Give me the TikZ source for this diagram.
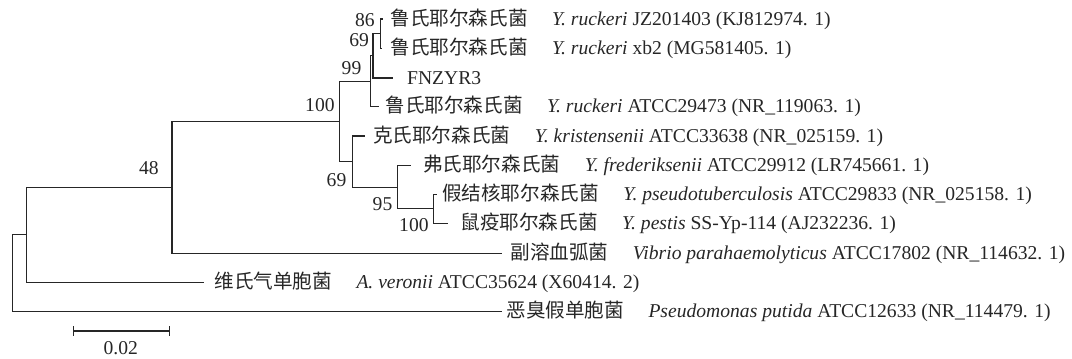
\documentclass[tikz,border=0pt]{standalone}
\usepackage{fontspec}
\setmainfont{Liberation Serif}
\newfontfamily\cjk{Noto Sans CJK SC}
\usetikzlibrary{positioning}
\definecolor{TreeInk}{HTML}{262626}
\newcommand{\strain}[3]{{\cjk #1}\hspace{1.25em}\textit{#2} #3}

\begin{document}
\begin{tikzpicture}[x=0.5pt,y=-0.5pt,
  branch/.style={draw=TreeInk,line width=0.55pt},
  leaf/.style={anchor=west,inner sep=0pt,text=TreeInk,
               font=\fontsize{9.8}{11}\selectfont},
  boot/.style={anchor=east,inner sep=0pt,text=TreeInk,
               font=\fontsize{9.8}{11}\selectfont}]
  \useasboundingbox (0,0) rectangle (1072,359);

  % internal nodes
  \coordinate (root)  at (12.3,273.5);
  \coordinate (nAer)  at (26.7,234.8);
  \coordinate (n48)   at (172,187.7);
  \coordinate (n100a) at (339.3,121.7);
  \coordinate (n99)   at (370.7,81.3);
  \coordinate (n69a)  at (373,55.6);
  \coordinate (n86)   at (380.3,33.6);
  \coordinate (n69b)  at (352.7,161.7);
  \coordinate (n95)   at (397.7,187.5);
  \coordinate (n100b) at (433.3,208.8);

  % leaf tips
  \coordinate (tJZ)  at (383,19);
  \coordinate (tXB)  at (381.5,48.3);
  \coordinate (tFN)  at (393.3,78);
  \coordinate (tAT)  at (379.3,106.7);
  \coordinate (tKr)  at (365,136);
  \coordinate (tFr)  at (411,165.7);
  \coordinate (tPs)  at (437,194.3);
  \coordinate (tPe)  at (448,223.3);
  \coordinate (tVi)  at (501.7,253.3);
  \coordinate (tAe)  at (204,282.3);
  \coordinate (tPp)  at (501.7,311.7);

  % branches
  \draw[branch] (root) |- (tPp);
  \draw[branch] (root) |- (nAer);
  \draw[branch] (nAer) |- (tAe);
  \draw[branch] (nAer) |- (n48);
  \draw[branch] (n48) |- (tVi);
  \draw[branch] (n48) |- (n100a);
  \draw[branch] (n100a) |- (n99);
  \draw[branch] (n100a) |- (n69b);
  \draw[branch] (n99) |- (n69a);
  \draw[branch] (n99) |- (tAT);
  \draw[branch] (n69a) |- (n86);
  \draw[branch] (n69a) |- (tFN);
  \draw[branch] (n86) |- (tJZ);
  \draw[branch] (n86) |- (tXB);
  \draw[branch] (n69b) |- (tKr);
  \draw[branch] (n69b) |- (n95);
  \draw[branch] (n95) |- (tFr);
  \draw[branch] (n95) |- (n100b);
  \draw[branch] (n100b) |- (tPs);
  \draw[branch] (n100b) |- (tPe);

  % leaf labels
  \node[leaf] (lJZ) at (390,19)    {\strain{鲁氏耶尔森氏菌}{Y. ruckeri}{JZ201403 (KJ812974. 1)}};
  \node[leaf] (lXB) at (390,48.3)  {\strain{鲁氏耶尔森氏菌}{Y. ruckeri}{xb2 (MG581405. 1)}};
  \node[leaf] (lFN) at (406.7,78)  {FNZYR3};
  \node[leaf] (lAT) at (385,106.7) {\strain{鲁氏耶尔森氏菌}{Y. ruckeri}{ATCC29473 (NR\_119063. 1)}};
  \node[leaf] (lKr) at (372.7,136) {\strain{克氏耶尔森氏菌}{Y. kristensenii}{ATCC33638 (NR\_025159. 1)}};
  \node[leaf] (lFr) at (422.7,165.7) {\strain{弗氏耶尔森氏菌}{Y. frederiksenii}{ATCC29912 (LR745661. 1)}};
  \node[leaf] (lPs) at (441.7,194.3) {\strain{假结核耶尔森氏菌}{Y. pseudotuberculosis}{ATCC29833 (NR\_025158. 1)}};
  \node[leaf] (lPe) at (460,223.3) {\strain{鼠疫耶尔森氏菌}{Y. pestis}{SS-Yp-114 (AJ232236. 1)}};
  \node[leaf] (lVi) at (510,253.3) {\strain{副溶血弧菌}{Vibrio parahaemolyticus}{ATCC17802 (NR\_114632. 1)}};
  \node[leaf] (lAe) at (214,282.3) {\strain{维氏气单胞菌}{A. veronii}{ATCC35624 (X60414. 2)}};
  \node[leaf] (lPp) at (506,311.7) {\strain{恶臭假单胞菌}{Pseudomonas putida}{ATCC12633 (NR\_114479. 1)}};

  % bootstrap values
  \node[boot] (b86)  at (375,20)    {86};
  \node[boot] (b69a) at (369.3,40)  {69};
  \node[boot] (b99)  at (361.7,68)  {99};
  \node[boot] (b100a) at (335,105)  {100};
  \node[boot] (b48)  at (159,168)   {48};
  \node[boot] (b69b) at (346.7,180) {69};
  \node[boot] (b95)  at (392.7,204) {95};
  \node[boot] (b100b) at (429,225)  {100};

  % scale bar
  \coordinate (sbL) at (73.3,331);
  \coordinate (sbR) at (169.3,331);
  \draw[branch] (sbL) -- (sbR);
  \draw[branch] (sbL) ++(0,-5) -- ++(0,10);
  \draw[branch] (sbR) ++(0,-5) -- ++(0,10);
  \node[leaf,anchor=center] (sbT) at (120.7,348.3) {0.02};
\end{tikzpicture}
\end{document}
